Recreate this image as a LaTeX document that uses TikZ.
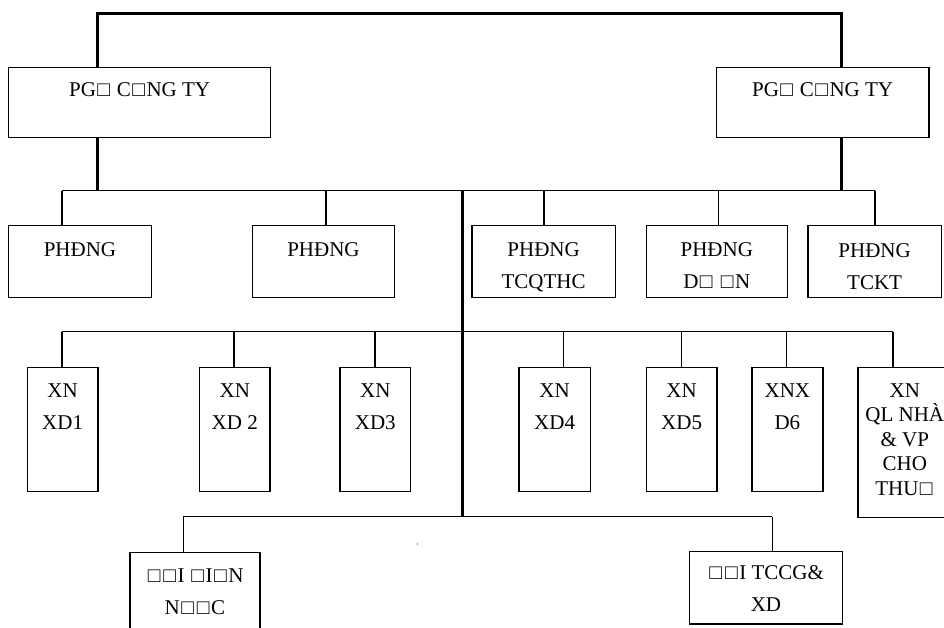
\documentclass[tikz,border=0pt]{standalone}
\usepackage{fontspec}
\setmainfont{Liberation Serif}
\usetikzlibrary{calc}
\tikzset{
  boxnode/.style={draw, line width=1.2pt, inner sep=0pt, anchor=north west},
  txt/.style={font=\fontsize{21}{32}\selectfont, align=center, inner sep=0pt, anchor=base},
  tighttxt/.style={txt, font=\fontsize{21}{24.5}\selectfont},
  thinline/.style={line width=1.3pt},
  heavyline/.style={line width=3pt}
}
\newcommand\mkbox[5]{\node[boxnode, minimum width=#4pt, minimum height=#5pt] (#1) at (#2,#3) {};}
\newcommand\sq{\kern1.5pt□\kern1.5pt}
\begin{document}
\begin{tikzpicture}[x=1pt,y=-1pt]
\useasboundingbox (0,0) rectangle (944,628);
\clip (0,0) rectangle (944,628);

% boxes
\mkbox{pgdL}{8}{67}{262}{70}
\mkbox{pgdR}{715.7}{67}{212.6}{70}

\mkbox{p1}{8}{225}{142.7}{72}
\mkbox{p2}{252}{225}{141.7}{72}
\mkbox{p3}{471.3}{225}{143.4}{72}
\mkbox{p4}{645.7}{225}{141}{72}
\mkbox{p5}{807.3}{225}{133.4}{72}

\mkbox{x1}{26.7}{367}{70.6}{124}
\mkbox{x2}{199}{367}{70.3}{124}
\mkbox{x3}{339.3}{367}{70.7}{124}
\mkbox{x4}{518.3}{367}{71.4}{124}
\mkbox{x5}{645.7}{367}{70.6}{124}
\mkbox{x6}{751.3}{367}{71}{124}
\mkbox{x7}{857.3}{366.5}{93.7}{150.2}

\mkbox{d1}{129.3}{552}{130}{90}
\mkbox{d2}{689}{551}{152.7}{72.3}

% texts (base anchor = baseline of the last line)
\node[txt] (pgdLt) at ($(pgdL.north)+(0,30)$) {PG\sq{} C\sq NG TY};
\node[txt] (pgdRt) at ($(pgdR.north)+(0,30)$) {PG\sq{} C\sq NG TY};

\node[txt] (p1t) at ($(p1.north)+(0,31)$) {PHĐNG};
\node[txt] (p2t) at ($(p2.north)+(0,31)$) {PHĐNG};
\node[txt] (p3t) at ($(p3.north)+(0,63)$) {PHĐNG\\TCQTHC};
\node[txt] (p4t) at ($(p4.north)+(0,63)$) {PHĐNG\\D\sq{} \sq N};
\node[txt] (p5t) at ($(p5.north)+(0,64)$) {PHĐNG\\TCKT};

\node[txt] (x1t) at ($(x1.north)+(0,62.3)$) {XN\\XD1};
\node[txt] (x2t) at ($(x2.north)+(0,62.3)$) {XN\\XD 2};
\node[txt] (x3t) at ($(x3.north)+(0,62.3)$) {XN\\XD3};
\node[txt] (x4t) at ($(x4.north)+(0,62.3)$) {XN\\XD4};
\node[txt] (x5t) at ($(x5.north)+(0,62.3)$) {XN\\XD5};
\node[txt] (x6t) at ($(x6.north)+(0,62.3)$) {XNX\\D6};
\node[tighttxt] (x7t) at ($(x7.north)+(0,128.5)$) {XN\\QL NHÀ\\\& VP\\CHO\\THU\sq};

\node[txt] (d1t) at ($(d1.north)+(0,62)$) {\sq\sq I \sq I\sq N\\N\sq\sq C};
\node[txt] (d2t) at ($(d2.north)+(0,60.5)$) {\sq\sq I TCCG\&\\XD};

% junction coordinates
\coordinate (tl) at (97,13.3);
\coordinate (tr) at (841,13.3);
\coordinate (c2) at (462,190.7);
\coordinate (c4) at (462,516.7);

\coordinate (a1) at (62,190.7);
\coordinate (a2) at (326,190.7);
\coordinate (a3) at (544,190.7);
\coordinate (a4) at (718.3,190.7);
\coordinate (a5) at (875,190.7);

\coordinate (b1) at (62,331.7);
\coordinate (b2) at (234,331.7);
\coordinate (b3) at (375,331.7);
\coordinate (b4) at (563.3,331.7);
\coordinate (b5) at (681.3,331.7);
\coordinate (b6) at (786.7,331.7);
\coordinate (b7) at (893,331.7);

\coordinate (e1) at (183.3,516.7);
\coordinate (e2) at (772.3,516.7);

% heavy connectors
\draw[heavyline] (tl |- pgdL.north) -- (tl) -- (tr) -- (tr |- pgdR.north);
\draw[heavyline] (tl |- pgdL.south) -- (tl |- c2);
\draw[heavyline] (tr |- pgdR.south) -- (tr |- c2);

% row 2 bus
\draw[thinline] (a1) -- (a5);
\foreach \a/\b in {a1/p1,a2/p2,a3/p3,a4/p4,a5/p5}
  \draw[thinline] (\a) -- (\a |- \b.north);

% row 3 bus
\draw[thinline] (b1) -- (b7);
\foreach \a/\b in {b1/x1,b2/x2,b3/x3,b4/x4,b5/x5,b6/x6,b7/x7}
  \draw[thinline] (\a) -- (\a |- \b.north);

% bottom bus
\draw[thinline] (e1) -- (e2);
\draw[thinline] (e1) -- (e1 |- d1.north);
\draw[thinline] (e2) -- (e2 |- d2.north);

% central trunk
\draw[heavyline] (c2) -- (c4);

% stray dot
\fill (417.7,544) circle (0.7pt);
\end{tikzpicture}
\end{document}
